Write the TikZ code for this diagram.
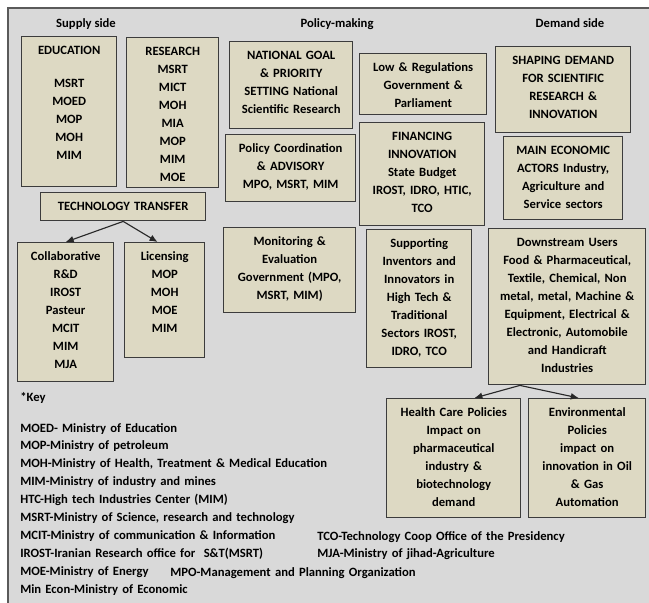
\documentclass[tikz,border=0pt]{standalone}
\usepackage{fontspec}
\setmainfont{Carlito}
\usetikzlibrary{arrows.meta}

\definecolor{panelgray}{RGB}{217,217,217}
\definecolor{framegray}{RGB}{90,90,90}
\definecolor{boxtan}{RGB}{221,217,195}
\definecolor{boxedge}{RGB}{60,60,60}
\definecolor{arrowgray}{RGB}{40,40,40}

\tikzset{
  txtfont/.style={font=\bfseries\fontsize{9}{12.8}\selectfont},
  cell/.style={txtfont, draw=boxedge, fill=boxtan, line width=1pt,
    anchor=north west, inner xsep=0pt, inner ysep=0pt, align=center,
    text height=4.5mm},
  head/.style={txtfont, anchor=base, inner sep=0pt},
  keytext/.style={txtfont, anchor=base west, inner sep=0pt, align=left,
    text width=110mm},
  arr/.style={draw=arrowgray, line width=0.8pt, -{Latex[length=2mm,width=1.7mm]}}
}

\begin{document}
\begin{tikzpicture}[x=0.25mm, y=-0.25mm]
   \useasboundingbox (0,0) rectangle (649,603);
   \fill [panelgray] (8,8) rectangle (649,603);
   \draw [framegray, line width=1pt] (8,603) -- (8,8) -- (649,8);

   % column headings
   \node [head] (supplyhead) at (86,28) {Supply side};
   \node [head] (policyhead) at (337,28) {Policy-making};
   \node [head] (demandhead) at (570,28) {Demand side};

   % supply side
   \node [cell, text width=23.75mm, text depth=33mm] (edu) at (21,36)
      {EDUCATION\\[3.75mm] MSRT\\ MOED\\ MOP\\ MOH\\ MIM};
   \node [cell, text width=23mm, text depth=33mm] (res) at (126,37)
      {RESEARCH\\ MSRT\\ MICT\\ MOH\\ MIA\\ MOP\\ MIM\\ MOE};
   \node [cell, text width=41.25mm, text depth=2.5mm] (tt) at (40,192)
      {TECHNOLOGY TRANSFER};
   \node [cell, text width=24mm, text depth=30.25mm] (collab) at (17,242)
      {Collaborative\\ R\&D\\ IROST\\ Pasteur\\ MCIT\\ MIM\\ MJA};
   \node [cell, text width=20mm, text depth=24.25mm] (lic) at (124,242)
      {Licensing\\ MOP\\ MOH\\ MOE\\ MIM};

   \draw [arr] (tt.south) -- (collab.north);
   \draw [arr] (tt.south) -- (lic.97);

   % policy-making
   \node [cell, text width=30.75mm, text depth=17.25mm] (goal) at (229,41)
      {NATIONAL GOAL\\ \& PRIORITY\\ SETTING National\\ Scientific Research};
   \node [cell, text width=32.5mm, text depth=12.25mm] (coord) at (225,134)
      {Policy Coordination\\ \& ADVISORY\\ MPO, MSRT, MIM};
   \node [cell, text width=33mm, text depth=16.75mm] (monitor) at (223,227)
      {Monitoring \&\\ Evaluation\\ Government (MPO,\\ MSRT, MIM)};
   \node [cell, text width=31.75mm, text depth=10.75mm] (law) at (359,53)
      {Low \& Regulations\\ Government \&\\ Parliament};
   \node [cell, text width=31.25mm, text depth=21.25mm] (finance) at (359,122)
      {FINANCING\\ INNOVATION\\ State Budget\\ IROST, IDRO, HTIC,\\ TCO};
   \node [cell, text width=26.25mm, text depth=30mm] (support) at (366,229)
      {Supporting\\ Inventors and\\ Innovators in\\ High Tech \&\\ Traditional\\ Sectors IROST,\\ IDRO, TCO};

   % demand side
   \node [cell, text width=33.75mm, text depth=17mm] (shaping) at (495,46)
      {SHAPING DEMAND\\ FOR SCIENTIFIC\\ RESEARCH \&\\ INNOVATION};
   \node [cell, text width=29.75mm, text depth=16.25mm] (actors) at (503,136)
      {MAIN ECONOMIC\\ ACTORS Industry,\\ Agriculture and\\ Service sectors};
   \node [cell, text width=39.25mm, text depth=34.5mm] (users) at (488,228)
      {Downstream Users\\ Food \& Pharmaceutical,\\ Textile, Chemical, Non\\ metal, metal, Machine \&\\ Equipment, Electrical \&\\ Electronic, Automobile\\ and Handicraft\\ Industries};
   \node [cell, text width=33.5mm, text depth=25.25mm] (health) at (386,398)
      {Health Care Policies\\ Impact on\\ pharmaceutical\\ industry \&\\ biotechnology\\ demand};
   \node [cell, text width=29.25mm, text depth=25.25mm] (environ) at (528,398)
      {Environmental\\ Policies\\ impact on\\ innovation in Oil\\ \& Gas\\ Automation};

   \draw [arr] (users.239) -- (health.71);
   \draw [arr] (users.239) -- (environ.98);

   % key
   \node [keytext] (keyhead) at (20,401) {*Key};
   \node [keytext] (keylist) at (20,432)
      {MOED- Ministry of Education\\
       MOP-Ministry of petroleum\\
       MOH-Ministry of Health, Treatment \& Medical Education\\
       MIM-Ministry of\ industry and mines\\
       HTC-High tech Industries Center (MIM)\\
       MSRT-Ministry of Science, research and technology\\
       MCIT-Ministry of communication \& Information\\
       IROST-Iranian Research office for\ \ S\&T(MSRT)\\
       MOE-Ministry of Energy\\
       Min Econ-Ministry of Economic};
   \node [keytext, text width=80mm] (keyright) at (317,540)
      {TCO-Technology Coop Office of the Presidency\\
       MJA-Ministry of jihad-Agriculture};
   \node [keytext, text width=80mm] (keympo) at (170,576)
      {MPO-Management and Planning Organization};
\end{tikzpicture}
\end{document}
